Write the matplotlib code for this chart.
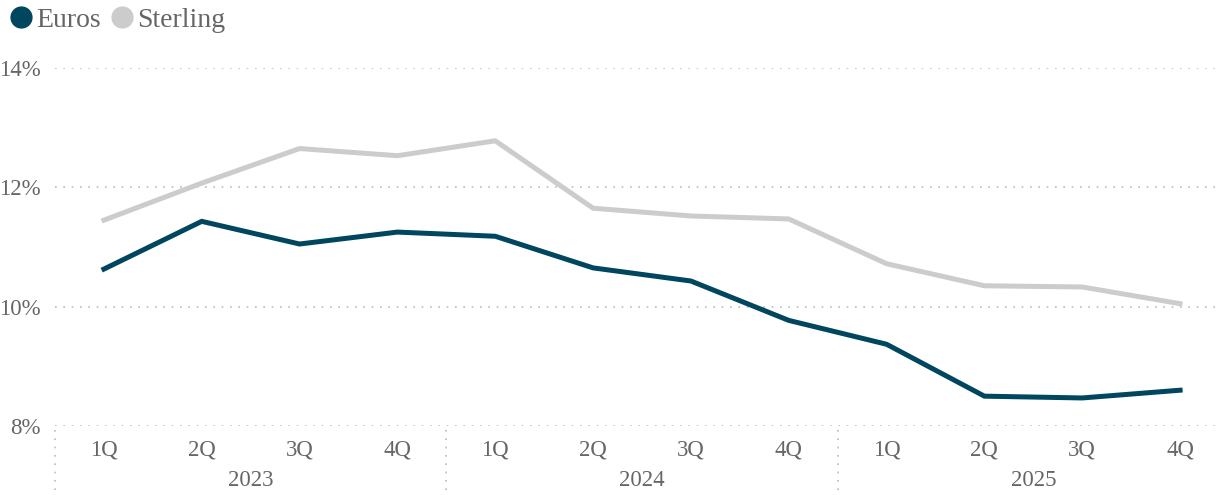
import matplotlib.pyplot as plt
from matplotlib.lines import Line2D

# Data
quarters = ['1Q', '2Q', '3Q', '4Q'] * 3
years = ['2023', '2024', '2025']
euros = [10.63, 11.43, 11.05, 11.25, 11.18, 10.65, 10.43, 9.77, 9.37, 8.50, 8.47, 8.60]
sterling = [11.45, 12.07, 12.65, 12.53, 12.78, 11.65, 11.52, 11.47, 10.72, 10.35, 10.33, 10.05]
yticks = [8, 10, 12, 14]

euro_color = '#00465e'
sterling_color = '#cccccc'
text_color = '#666666'
plt.rcParams['font.family'] = ['Liberation Serif', 'DejaVu Serif']

W, H = 1216, 495
fig = plt.figure(figsize=(W / 100, H / 100), dpi=100)
# axes spans 12 quarter slots, the last year runs a bit past the right edge
left, right, top, bottom = 55, 1229, 68, 426
ax = fig.add_axes([left / W, 1 - bottom / H, (right - left) / W, (bottom - top) / H])

x = list(range(len(quarters)))
ax.plot(x, sterling, color=sterling_color, lw=3.6, solid_joinstyle='miter', zorder=3)
ax.plot(x, euros, color=euro_color, lw=3.6, solid_joinstyle='miter', zorder=4)

ax.set_xlim(-0.5, len(quarters) - 0.5)
ax.set_ylim(8, 14)
ax.set_yticks(yticks)
ax.set_yticklabels([f'{v}%' for v in yticks])
ax.grid(axis='y', color='#bbbbbb', linestyle=(0, (1, 4)), lw=1.2)
ax.set_xticks(x)
ax.set_xticklabels(quarters)
ax.tick_params(axis='x', length=0, pad=10, labelsize=16.5, labelcolor=text_color)
ax.tick_params(axis='y', length=0, pad=10, labelsize=16.5, labelcolor=text_color)
for s in ax.spines.values():
    s.set_visible(False)

# year labels and year dividers below the axis
for i, yr in enumerate(years):
    ax.text(i * 4 + 1.5, -0.152, yr, transform=ax.get_xaxis_transform(),
            ha='center', va='center', fontsize=16.5, color=text_color)
    ax.add_line(Line2D([i * 4 - 0.5, i * 4 - 0.5], [-0.01, -0.2], transform=ax.get_xaxis_transform(),
                       color='#bbbbbb', linestyle=(0, (1, 4)), lw=1.2, clip_on=False))

handles = [Line2D([], [], marker='o', ls='', ms=15, color=euro_color),
           Line2D([], [], marker='o', ls='', ms=15, color=sterling_color)]
leg = fig.legend(handles, ['Euros', 'Sterling'], loc='upper left', bbox_to_anchor=(-0.017, 1.035),
                 ncol=2, frameon=False, handletextpad=-0.05, columnspacing=0.15, fontsize=20,
                 handlelength=1.2)
for t in leg.get_texts():
    t.set_color(text_color)

fig.savefig('out.png', dpi=100)
